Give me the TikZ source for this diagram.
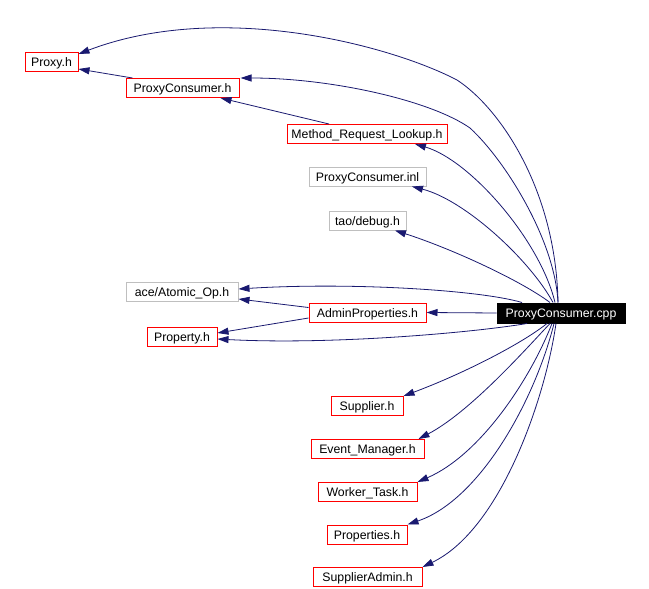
\documentclass[tikz,border=0pt]{standalone}
\usepackage{fontspec}
\setmainfont{Liberation Sans}
\usetikzlibrary{arrows.meta}
\definecolor{edgeblue}{HTML}{191970}
\definecolor{boxred}{HTML}{FF0000}
\definecolor{boxgray}{HTML}{BFBFBF}
\begin{document}
\begin{tikzpicture}[x=1pt,y=-1pt,
  every node/.style={inner sep=0pt, minimum height=19pt, text height=10pt, text depth=1pt, font=\fontsize{12.3}{13}\selectfont, line width=1pt},
  hdr/.style={draw=boxred, fill=white},
  ext/.style={draw=boxgray, fill=white},
  mainnode/.style={draw=black, fill=black, text=white},
  edge/.style={draw=edgeblue, line width=0.8pt, -{Triangle[length=11pt,width=7pt]}}]
\useasboundingbox[fill=white] (0,0) rectangle (649,589);
% nodes
\node[hdr, minimum width=53pt]  (proxyh)   at (51.5,62)  {Proxy.h};
\node[hdr, minimum width=113pt] (pch)      at (182.5,88) {ProxyConsumer.h};
\node[hdr, minimum width=160pt] (mrl)      at (367,134)  {Method\_Request\_Lookup.h};
\node[ext, minimum width=117pt] (inl)      at (367.5,176.5) {ProxyConsumer.inl};
\node[ext, minimum width=77pt]  (debug)    at (367.5,220.5) {tao/debug.h};
\node[ext, minimum width=112pt] (atomic)   at (182,292)  {ace/Atomic\_Op.h};
\node[hdr, minimum width=117pt] (admin)    at (367.5,312.5) {AdminProperties.h};
\node[hdr, minimum width=70pt]  (property) at (182,336.5) {Property.h};
\node[mainnode, minimum width=128pt, minimum height=20pt] (cpp) at (561,313) {ProxyConsumer.cpp};
\node[hdr, minimum width=72pt]  (supplier) at (367,406)  {Supplier.h};
\node[hdr, minimum width=113pt] (evm)      at (367.5,449) {Event\_Manager.h};
\node[hdr, minimum width=99pt]  (worker)   at (367.5,492) {Worker\_Task.h};
\node[hdr, minimum width=80pt]  (props)    at (367,534.5) {Properties.h};
\node[hdr, minimum width=109pt] (sadmin)   at (367.5,577) {SupplierAdmin.h};
% edges
\draw[edge] ([xshift=-3pt]cpp.north) .. controls (556,190) and (500,108) .. (457,80)
   .. controls (390,45) and (220,0) .. ([yshift=-2pt]proxyh.north east);
\draw[edge] ([xshift=-3pt]cpp.north) .. controls (555,240) and (505,160) .. (470,128)
   .. controls (430,100) and (330,78) .. ([xshift=1pt]pch.north east);
\draw[edge] ([xshift=-6pt]cpp.north) .. controls (540,240) and (470,160) .. ([xshift=48pt]mrl.south);
\draw[edge] ([xshift=-8pt]cpp.north) .. controls (530,260) and (465,200) .. ([xshift=44.5pt]inl.south);
\draw[edge] ([xshift=-11pt]cpp.north) .. controls (520,280) and (450,248) .. ([xshift=27.5pt]debug.south);
\draw[edge] ([xshift=-39pt]cpp.north) .. controls (480,290) and (350,282) .. ([yshift=3pt]atomic.east);
\draw[edge] (cpp.west) -- (admin.east);
\draw[edge] ([yshift=5pt]admin.west) -- ([yshift=-7pt]atomic.east);
\draw[edge] ([yshift=-5.5pt]admin.west) -- ([yshift=3.5pt]property.east);
\draw[edge] ([xshift=-34pt]cpp.south) .. controls (470,333) and (330,345) .. ([yshift=-2.5pt]property.east);
\draw[edge] ([xshift=-14pt]cpp.south) .. controls (520,345) and (460,375) .. (supplier.north east);
\draw[edge] ([xshift=-11pt]cpp.south) .. controls (525,350) and (470,412) .. ([xshift=-6pt]evm.north east);
\draw[edge] ([xshift=-9pt]cpp.south) .. controls (530,380) and (480,455) .. (worker.north east);
\draw[edge] ([xshift=-7pt]cpp.south) .. controls (535,400) and (480,500) .. (props.north east);
\draw[edge] ([xshift=-5pt]cpp.south) .. controls (545,400) and (500,530) .. (sadmin.north east);
\draw[edge] ([xshift=-38pt]mrl.north) -- ([xshift=-19pt]pch.south east);
\draw[edge] ([xshift=-50pt]pch.north) -- ([yshift=-7pt]proxyh.east);
\end{tikzpicture}
\end{document}
